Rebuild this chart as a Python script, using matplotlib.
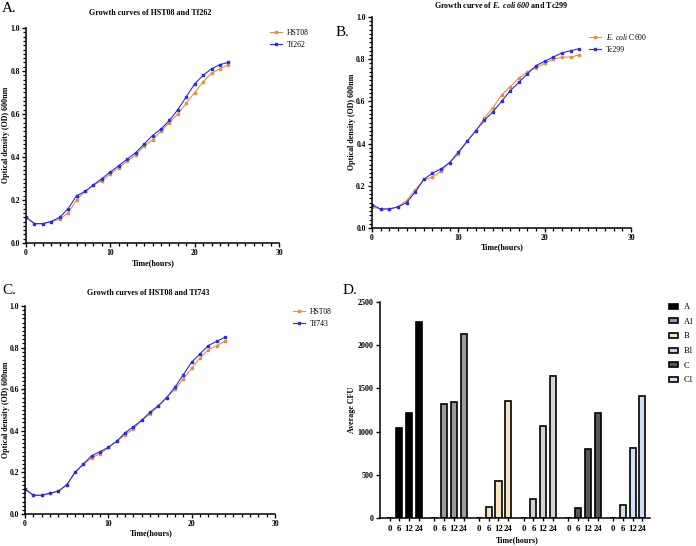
import matplotlib
matplotlib.use("Agg")
import matplotlib.pyplot as plt
import numpy as np
from matplotlib.ticker import MultipleLocator, FixedLocator

plt.rcParams['font.family'] = ['Liberation Serif', 'DejaVu Serif']
plt.rcParams['mathtext.fontset'] = 'custom'
plt.rcParams['mathtext.rm'] = 'Liberation Serif'
plt.rcParams['mathtext.it'] = 'Liberation Serif:italic'
plt.rcParams['mathtext.bf'] = 'Liberation Serif:bold'
plt.rcParams['mathtext.bfit'] = 'Liberation Serif:italic:bold'

# growth curves, OD600 at each hour
hours = list(range(25))
hst08_a = [0.12, 0.09, 0.09, 0.10, 0.11, 0.14, 0.20, 0.24, 0.27, 0.29, 0.32, 0.35, 0.38,
           0.41, 0.45, 0.48, 0.52, 0.56, 0.60, 0.65, 0.70, 0.75, 0.79, 0.81, 0.83]
tf262 = [0.12, 0.09, 0.09, 0.10, 0.12, 0.16, 0.22, 0.24, 0.27, 0.30, 0.33, 0.36, 0.39,
         0.42, 0.46, 0.50, 0.53, 0.57, 0.62, 0.68, 0.74, 0.78, 0.81, 0.83, 0.84]
c600 = [0.10, 0.09, 0.09, 0.10, 0.13, 0.18, 0.23, 0.24, 0.27, 0.31, 0.35, 0.41, 0.46,
        0.52, 0.57, 0.63, 0.67, 0.71, 0.74, 0.76, 0.78, 0.80, 0.81, 0.81, 0.82]
tc299 = [0.11, 0.09, 0.09, 0.10, 0.12, 0.17, 0.23, 0.26, 0.28, 0.31, 0.36, 0.41, 0.46,
         0.51, 0.55, 0.60, 0.65, 0.69, 0.73, 0.77, 0.79, 0.81, 0.83, 0.84, 0.85]
hst08_c = [0.12, 0.09, 0.09, 0.10, 0.11, 0.14, 0.20, 0.24, 0.27, 0.29, 0.32, 0.35, 0.38,
           0.41, 0.45, 0.48, 0.52, 0.56, 0.60, 0.65, 0.70, 0.75, 0.79, 0.81, 0.83]
tf743 = [0.12, 0.09, 0.09, 0.10, 0.11, 0.14, 0.20, 0.24, 0.28, 0.30, 0.32, 0.35, 0.39,
         0.42, 0.45, 0.49, 0.52, 0.56, 0.61, 0.67, 0.73, 0.77, 0.81, 0.83, 0.85]

# CFU bars
cfu_times = ["0", "6", "12", "24"]
cfu_groups = ["A", "A1", "B", "B1", "C", "C1"]
cfu_values = {
    "A": [0, 1040, 1215, 2265],
    "A1": [0, 1320, 1345, 2125],
    "B": [0, 130, 430, 1350],
    "B1": [0, 220, 1065, 1640],
    "C": [0, 115, 800, 1210],
    "C1": [0, 155, 815, 1410],
}
cfu_colors = ["#000000", "#9b9b9b", "#f6e3c0", "#d3d3d3", "#575757", "#cfe0f5"]

ORANGE = "#e8913a"
BLUE = "#2a2af2"
W, H = 696, 546


def px_axes(fig, left, right, top, bottom):
    return fig.add_axes([left / W, 1 - bottom / H, (right - left) / W, (bottom - top) / H])


def fig_text(fig, x, y, s, **kw):
    fig.text(x / W, 1 - y / H, s, **kw)


def style_axes(ax, size=5.5):
    for side in ["top", "right"]:
        ax.spines[side].set_visible(False)
    for side in ["left", "bottom"]:
        ax.spines[side].set_linewidth(1.1)
    ax.tick_params(which="major", length=3, width=1.0, labelsize=size, pad=1.5)
    ax.tick_params(which="minor", length=2.2, width=0.9)
    for lbl in ax.get_xticklabels() + ax.get_yticklabels():
        lbl.set_fontweight("bold")


def growth_panel(fig, box, y1, y2, lab1, lab2, leg_xy):
    ax = px_axes(fig, *box)
    ax.plot(hours, y1, color=ORANGE, marker="s", ms=2.0, lw=0.8, label=lab1)
    ax.plot(hours, y2, color=BLUE, marker="s", ms=2.0, lw=0.8, label=lab2)
    ax.set_xlim(0, 30)
    ax.set_ylim(0, 1.0)
    ax.xaxis.set_major_locator(MultipleLocator(10))
    ax.xaxis.set_minor_locator(FixedLocator(np.arange(0, 31, 1)))
    ax.set_yticks([0, 0.2, 0.4, 0.6, 0.8, 1.0])
    ax.set_yticklabels(["0.0", "0.2", "0.4", "0.6", "0.8", "1.0"])
    ax.yaxis.set_minor_locator(FixedLocator(np.arange(0, 1.001, 0.02)))
    style_axes(ax)
    ax.legend(loc="upper left", bbox_to_anchor=(leg_xy[0] / W, 1 - leg_xy[1] / H),
              bbox_transform=fig.transFigure, frameon=False, fontsize=5.5,
              handlelength=1.6, handletextpad=0.6, labelspacing=0.5,
              borderpad=0, borderaxespad=0)
    return ax


fig = plt.figure(figsize=(6.96, 5.46), dpi=100)

# A
growth_panel(fig, (26, 279, 28, 243), hst08_a, tf262, "HST08", "Tf262", (270, 29))
fig_text(fig, 2, 9, "A.", fontsize=11, va="center")
fig_text(fig, 150, 13, "Growth curves of HST08 and Tf262", fontsize=5.8,
         fontweight="bold", ha="center", va="center")
fig_text(fig, 6, 135, "Optical density (OD) 600nm", fontsize=5.8, fontweight="bold",
         rotation=90, ha="center", va="center")
fig_text(fig, 153, 263, "Time(hours)", fontsize=5.8, fontweight="bold",
         ha="center", va="center")

# B
growth_panel(fig, (372, 631, 17, 228), c600, tc299, r"$\mathit{E.\ coli}$ C600", "Tc299", (589, 32))
fig_text(fig, 336, 33, "B.", fontsize=11, va="center")
fig_text(fig, 501, 5, r"Growth curve of $\mathbfit{E.\ coli\ 600}$ and Tc299", fontsize=5.8,
         fontweight="bold", ha="center", va="center")
fig_text(fig, 352, 122, "Optical density (OD) 600nm", fontsize=5.8, fontweight="bold",
         rotation=90, ha="center", va="center")
fig_text(fig, 502, 247, "Time(hours)", fontsize=5.8, fontweight="bold",
         ha="center", va="center")

# C
growth_panel(fig, (25, 275, 306, 514), hst08_c, tf743, "HST08", "Tf743", (293, 308))
fig_text(fig, 2, 291, "C.", fontsize=11, va="center")
fig_text(fig, 148, 293, "Growth curves of HST08 and Tf743", fontsize=5.8,
         fontweight="bold", ha="center", va="center")
fig_text(fig, 6, 410, "Optical density (OD) 600nm", fontsize=5.8, fontweight="bold",
         rotation=90, ha="center", va="center")
fig_text(fig, 151, 533, "Time(hours)", fontsize=5.8, fontweight="bold",
         ha="center", va="center")

# D
axd = px_axes(fig, 380, 650, 302, 518)
group_step = 4.6
tick_pos, tick_lab = [], []
for g, (name, col) in enumerate(zip(cfu_groups, cfu_colors)):
    xs = g * group_step + np.arange(len(cfu_times))
    axd.bar(xs, cfu_values[name], width=0.62, color=col, edgecolor="black",
            linewidth=1.2, label=name)
    tick_pos.extend(xs)
    tick_lab.extend(cfu_times)
axd.set_xlim(-1.0, 5 * group_step + 3.8)
axd.set_ylim(0, 2500)
axd.set_yticks([0, 500, 1000, 1500, 2000, 2500])
axd.set_xticks(tick_pos)
axd.set_xticklabels(tick_lab)
style_axes(axd, size=5.8)
axd.tick_params(axis="x", length=2.5, pad=2.5, labelsize=6.3)
axd.legend(loc="upper left", bbox_to_anchor=(669 / W, 1 - 303 / H),
           bbox_transform=fig.transFigure, frameon=False, fontsize=6,
           handlelength=1.1, handleheight=0.55, handletextpad=0.7, labelspacing=0.8,
           borderpad=0, borderaxespad=0)
fig_text(fig, 343, 291, "D.", fontsize=11, va="center")
fig_text(fig, 352, 410, "Average CFU", fontsize=5.8, fontweight="bold",
         rotation=90, ha="center", va="center")
fig_text(fig, 517, 540, "Time(hours)", fontsize=5.8, fontweight="bold",
         ha="center", va="center")

fig.savefig("out.png", dpi=100)
